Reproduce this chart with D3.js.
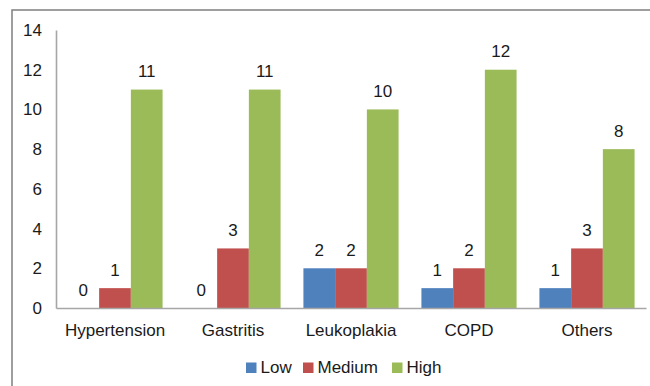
<!DOCTYPE html>
<html>
<head>
<meta charset="utf-8">
<script src="https://cdn.jsdelivr.net/npm/d3@7"></script>
<style>
  html, body { margin: 0; padding: 0; background: #fff; }
  svg { display: block; }
  text { font-family: "Liberation Sans", Arial, sans-serif; fill: #1a1a1a; }
</style>
</head>
<body>
<svg id="chart" width="650" height="386"></svg>
<script>
// Disease categories and severity counts
const categories = ["Hypertension", "Gastritis", "Leukoplakia", "COPD", "Others"];
const seriesNames = ["Low", "Medium", "High"];
const lowValues = [0, 0, 2, 1, 1];
const mediumValues = [1, 3, 2, 2, 3];
const highValues = [11, 11, 10, 12, 8];
const yTicks = [0, 2, 4, 6, 8, 10, 12, 14];
const colors = ["#4F81BD", "#C0504D", "#9BBB59"];

const seriesValues = [lowValues, mediumValues, highValues];
const FONT = 17;

const svg = d3.select("#chart");
const W = 650, H = 386;
const plot = { left: 56, right: 646, top: 30, bottom: 308 };

// outer frame
svg.append("rect")
  .attr("x", 12).attr("y", 10)
  .attr("width", W + 20).attr("height", H + 20)
  .attr("fill", "none").attr("stroke", "#7f7f7f").attr("stroke-width", 1.5);

const x0 = d3.scaleBand().domain(categories).range([plot.left, plot.right]).paddingInner(0).paddingOuter(0);
const x1 = d3.scaleBand().domain(seriesNames).range([0, x0.bandwidth()]).paddingInner(0).paddingOuter(0.36);
const y = d3.scaleLinear().domain([0, 14]).range([plot.bottom, plot.top]);

// y axis labels (no tick marks)
const yAxis = svg.append("g").attr("transform", `translate(${plot.left},0)`)
  .call(d3.axisLeft(y).tickValues(yTicks).tickSize(0).tickPadding(14).tickFormat(d3.format("d")));
yAxis.select(".domain").attr("stroke", "#a6a6a6").attr("stroke-width", 1.6);
yAxis.selectAll("text").attr("font-size", FONT).attr("font-family", "Liberation Sans, Arial, sans-serif").attr("fill", "#1a1a1a");

// bars
const groups = svg.append("g").selectAll("g")
  .data(categories)
  .join("g")
  .attr("transform", d => `translate(${x0(d)},0)`);

groups.selectAll("rect")
  .data((c, i) => seriesNames.map((s, k) => ({ s, v: seriesValues[k][i], k })))
  .join("rect")
  .attr("x", d => x1(d.s))
  .attr("width", x1.bandwidth())
  .attr("y", d => y(d.v))
  .attr("height", d => y(0) - y(d.v))
  .attr("fill", d => colors[d.k]);

// value labels
groups.selectAll("text.val")
  .data((c, i) => seriesNames.map((s, k) => ({ s, v: seriesValues[k][i], k })))
  .join("text")
  .attr("class", "val")
  .attr("x", d => x1(d.s) + x1.bandwidth() / 2)
  .attr("y", d => y(d.v) - 12.5)
  .attr("text-anchor", "middle")
  .attr("font-size", FONT)
  .text(d => d.v);

// x axis
const xAxis = svg.append("g").attr("transform", `translate(0,${plot.bottom})`)
  .call(d3.axisBottom(x0).tickSize(0).tickPadding(16));
xAxis.select(".domain").attr("stroke", "#a6a6a6").attr("stroke-width", 1.6);
xAxis.selectAll("text").attr("font-size", FONT).attr("font-family", "Liberation Sans, Arial, sans-serif").attr("fill", "#1a1a1a");

// legend
const legendX = [246, 303, 392];
const legend = svg.append("g").selectAll("g")
  .data(seriesNames)
  .join("g")
  .attr("transform", (d, i) => `translate(${legendX[i]},362.5)`);
legend.append("rect").attr("width", 10.5).attr("height", 10.5).attr("fill", (d, i) => colors[i]);
legend.append("text").attr("x", 14.5).attr("y", 10.5).attr("font-size", FONT).text(d => d);
</script>
</body>
</html>
